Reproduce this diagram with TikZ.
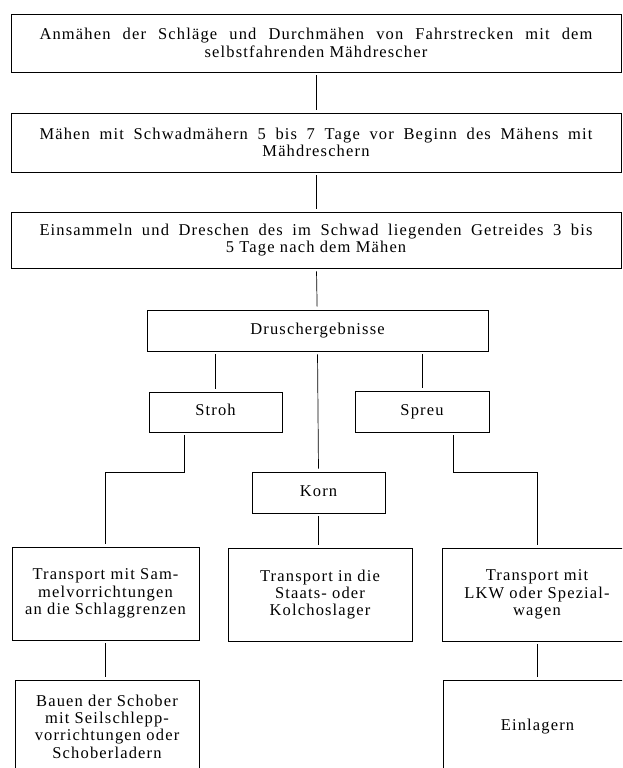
\documentclass[tikz,border=0pt]{standalone}
\usepackage{fontspec}
\setmainfont{Liberation Serif}[LetterSpace=7]
\usepackage{tikz}

\newcommand{\vollzeile}[1]{\makebox[553pt][s]{#1}}

\begin{document}
\begin{tikzpicture}[x=1pt, y=-1pt,
  kasten/.style={draw=black, line width=0.7pt, rectangle, inner sep=0pt, align=center,
    font=\fontsize{16.5}{17.3}\selectfont},
  einzeilig/.style={kasten, text height=11.5pt, text depth=4pt},
  verbindung/.style={black, line width=0.7pt, shorten <=3pt, shorten >=3pt}]
\useasboundingbox (0,0) rectangle (622,768);
\clip (0,0) rectangle (622,768);
\node[kasten, minimum width=610, minimum height=58] (anmaehen) at (316,43)
  {\vollzeile{Anmähen der Schläge und Durchmähen von Fahrstrecken mit dem}\\selbstfahrenden Mähdrescher};
\node[kasten, minimum width=610, minimum height=59] (schwad) at (316,142.5)
  {\vollzeile{Mähen mit Schwadmähern 5 bis 7 Tage vor Beginn des Mähens mit}\\Mähdreschern};
\node[kasten, minimum width=610, minimum height=56] (dreschen) at (316,240)
  {\vollzeile{Einsammeln und Dreschen des im Schwad liegenden Getreides 3 bis}\\5 Tage nach dem Mähen};
\node[einzeilig, minimum width=341, minimum height=41] (ergebnis) at (317.5,330.5) {Druschergebnisse};
\node[einzeilig, minimum width=133, minimum height=40] (stroh) at (215.5,412) {Stroh};
\node[einzeilig, minimum width=134, minimum height=41] (spreu) at (422,411.5) {Spreu};
\node[einzeilig, minimum width=133, minimum height=41] (korn) at (318.5,492.5) {Korn};
\node[kasten, minimum width=187, minimum height=93] (sammel) at (105.5,593.5)
  {Transport mit Sam-\\melvorrichtungen\\an die Schlaggrenzen};
\node[kasten, minimum width=184, minimum height=93] (lager) at (320,594.5)
  {Transport in die\\Staats- oder\\Kolchoslager};
\node[kasten, minimum width=190, minimum height=93] (lkw) at (537,594.5)
  {Transport mit\\LKW oder Spezial-\\wagen};
\node[kasten, minimum width=184, minimum height=93] (schober) at (107,726.5)
  {Bauen der Schober\\mit Seilschlepp-\\vorrichtungen oder\\Schoberladern};
\node[einzeilig, minimum width=189, minimum height=93] (einlagern) at (537.5,726.5) {Einlagern};
% Knicke
\coordinate (strohknick) at (184,472);
\coordinate (spreuknick) at (453,472);
\draw[verbindung] (anmaehen) -- (schwad);
\draw[verbindung] (schwad) -- (dreschen);
\draw[verbindung] (dreschen) -- (ergebnis);
\draw[verbindung] (stroh.north |- ergebnis.south) -- (stroh.north);
\draw[verbindung] (ergebnis.south) -- (korn.north);
\draw[verbindung] (spreu.north |- ergebnis.south) -- (spreu.north);
\draw[verbindung] (stroh.south -| strohknick) -- (strohknick) -| (sammel.north);
\draw[verbindung] (spreu.south -| spreuknick) -- (spreuknick) -| (lkw.north);
\draw[verbindung] (korn.south) -- (korn.south |- lager.north);
\draw[verbindung] (sammel.south) -- (sammel.south |- schober.north);
\draw[verbindung] (lkw.south) -- (lkw.south |- einlagern.north);
\end{tikzpicture}
\end{document}
